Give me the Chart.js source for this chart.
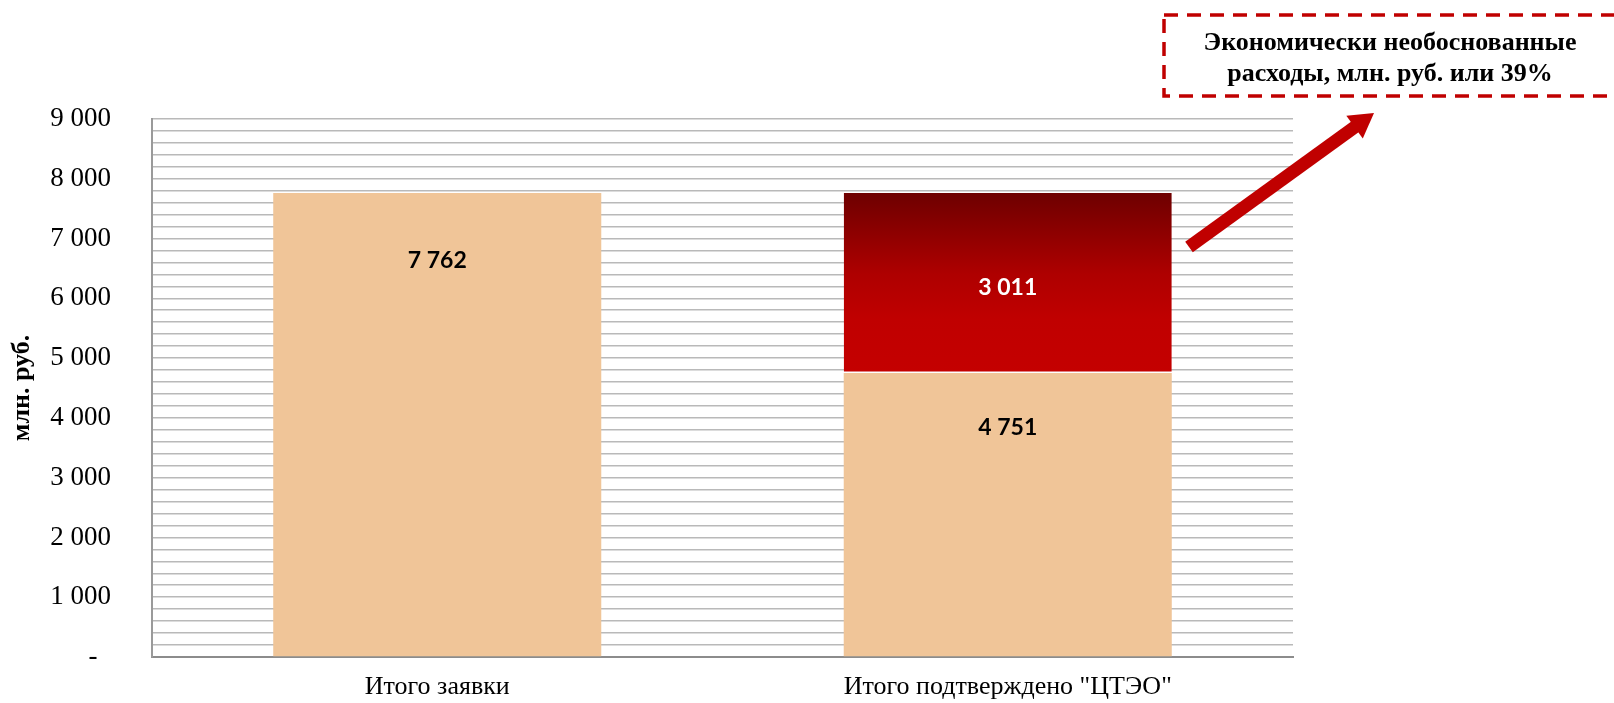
<!DOCTYPE html>
<html>
<head>
<meta charset="utf-8">
<script src="https://cdn.jsdelivr.net/npm/chart.js@4/dist/chart.umd.min.js"></script>
<style>
  html, body { margin: 0; padding: 0; background: #fff; }
  #wrap { width: 1614px; height: 703px; position: relative; }
</style>
</head>
<body>
<div id="wrap"><canvas id="c" width="1614" height="703"></canvas></div>
<script>
// ---- data ----
const categories = ['Итого заявки', 'Итого подтверждено "ЦТЭО"'];
const confirmedValues = [7762, 4751];
const unjustifiedValues = [null, 3011];
const tickLabels = ['-  ', '1 000', '2 000', '3 000', '4 000', '5 000', '6 000', '7 000', '8 000', '9 000'];
const yAxisTitle = 'млн. руб.';
const annotationLines = ['Экономически необоснованные', 'расходы, млн. руб. или 39%'];

// ---- helpers ----
const fmt = v => String(v).replace(/\B(?=(\d{3})+(?!\d))/g, ' ');
const SERIF = '"Liberation Serif", "Times New Roman", serif';

function redGradient(ctx) {
  const chart = ctx.chart;
  const y = chart.scales && chart.scales.y;
  if (!chart.chartArea || !y) return '#C00000';
  const i = ctx.dataIndex !== undefined ? ctx.dataIndex : 1;
  const base = confirmedValues[i] || 0;
  const val = unjustifiedValues[i] || 0;
  const top = y.getPixelForValue(base + val);
  const bottom = y.getPixelForValue(base);
  if (!isFinite(top) || !isFinite(bottom) || top === bottom) return '#C00000';
  const g = chart.ctx.createLinearGradient(0, top, 0, bottom);
  g.addColorStop(0, '#6E0000');
  g.addColorStop(0.45, '#AE0000');
  g.addColorStop(0.7, '#C00000');
  g.addColorStop(1, '#C40000');
  return g;
}

const labelPlugin = {
  id: 'barLabels',
  afterDatasetsDraw(chart, args, opts) {
    const ctx = chart.ctx;
    ctx.save();
    ctx.font = 'bold 23px Lato, "Open Sans", sans-serif';
    ctx.textAlign = 'center';
    ctx.textBaseline = 'middle';
    chart.data.datasets.forEach((ds, di) => {
      const meta = chart.getDatasetMeta(di);
      const offsets = opts.offsets[di];
      meta.data.forEach((bar, i) => {
        const v = ds.data[i];
        if (v === null || v === undefined) return;
        const top = Math.min(bar.y, bar.base);
        ctx.fillStyle = opts.colors[di];
        ctx.fillText(fmt(v), bar.x, top + offsets[i]);
      });
    });
    ctx.restore();
  }
};

const annotationPlugin = {
  id: 'annotation',
  afterDraw(chart) {
    const ctx = chart.ctx;
    ctx.save();
    // dashed box
    ctx.strokeStyle = '#C00000';
    ctx.lineWidth = 3.5;
    ctx.setLineDash([14, 9]);
    ctx.strokeRect(1164, 15, 480, 81);
    ctx.setLineDash([]);
    // text
    ctx.fillStyle = '#000';
    ctx.font = 'bold 26px ' + SERIF;
    ctx.textAlign = 'center';
    ctx.textBaseline = 'middle';
    ctx.fillText(annotationLines[0], 1390, 43);
    ctx.fillText(annotationLines[1], 1390, 74);
    // arrow
    const x0 = 1189, y0 = 247, x1 = 1374, y1 = 113;
    const dx = x1 - x0, dy = y1 - y0, L = Math.hypot(dx, dy);
    const ux = dx / L, uy = dy / L, px = -uy, py = ux;
    const headLen = 24, headW = 14;
    const bx = x1 - ux * headLen, by = y1 - uy * headLen;
    ctx.strokeStyle = '#C00000';
    ctx.fillStyle = '#C00000';
    ctx.lineWidth = 13;
    ctx.lineCap = 'butt';
    ctx.beginPath();
    ctx.moveTo(x0, y0);
    ctx.lineTo(bx + ux * 2, by + uy * 2);
    ctx.stroke();
    ctx.beginPath();
    ctx.moveTo(x1, y1);
    ctx.lineTo(bx + px * headW, by + py * headW);
    ctx.lineTo(bx - px * headW, by - py * headW);
    ctx.closePath();
    ctx.fill();
    ctx.restore();
  }
};

new Chart(document.getElementById('c'), {
  type: 'bar',
  data: {
    labels: categories,
    datasets: [
      {
        label: 'Подтверждено',
        data: confirmedValues,
        backgroundColor: '#F0C598',
        borderWidth: 0,
        barPercentage: 0.575,
        categoryPercentage: 1
      },
      {
        label: 'Экономически необоснованные расходы',
        data: unjustifiedValues,
        backgroundColor: redGradient,
        borderColor: '#FFFFFF',
        borderWidth: { top: 0, left: 0, right: 0, bottom: 1.5 },
        borderSkipped: false,
        barPercentage: 0.575,
        categoryPercentage: 1
      }
    ]
  },
  options: {
    responsive: false,
    animation: false,
    layout: { padding: { top: 119, right: 321, bottom: 0, left: 0 } },
    plugins: {
      legend: { display: false },
      tooltip: { enabled: false },
      barLabels: {
        offsets: [[68, 55], [null, 95]],
        colors: ['#000000', '#FFFFFF']
      }
    },
    scales: {
      x: {
        stacked: true,
        grid: { display: false, drawTicks: false },
        border: { display: true, color: '#8C8C8C', width: 2 },
        ticks: { font: { family: SERIF, size: 26 }, color: '#000', padding: 15, maxRotation: 0 },
        afterFit: s => { s.height = 46; s.paddingLeft = 0; s.paddingRight = 0; }
      },
      y: {
        stacked: true,
        min: 0,
        max: 9000,
        grid: { color: '#B9B9B9', lineWidth: 1.6, drawTicks: false },
        border: { display: true, color: '#9A9A9A', width: 2 },
        ticks: {
          stepSize: 200,
          autoSkip: false,
          padding: 41,
          color: '#000',
          font: { family: SERIF, size: 27 },
          callback: v => (v % 1000 === 0 ? tickLabels[v / 1000] : '')
        },
        title: {
          display: true,
          text: yAxisTitle,
          color: '#000',
          font: { family: SERIF, size: 26, weight: 'bold' },
          padding: { top: 7, bottom: 0 }
        },
        afterFit: s => { s.width = 152; s.paddingTop = 0; s.paddingBottom = 0; }
      }
    }
  },
  plugins: [labelPlugin, annotationPlugin]
});
</script>
</body>
</html>
